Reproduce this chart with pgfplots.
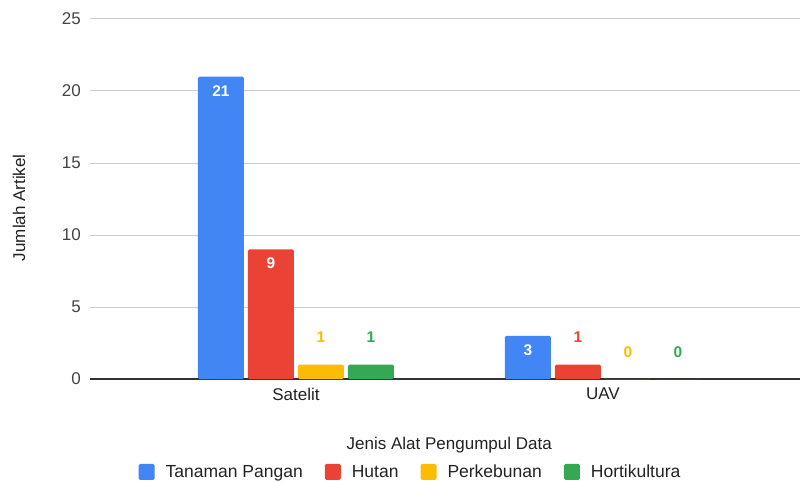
\documentclass[border=0pt]{standalone}
\usepackage{pgfplots}
\pgfplotsset{compat=1.18}
\usepackage{fontspec}
\setmainfont{Liberation Sans}
\definecolor{cBlue}{HTML}{4285F4}
\definecolor{cRed}{HTML}{EA4335}
\definecolor{cYellow}{HTML}{FBBC04}
\definecolor{cGreen}{HTML}{34A853}
\definecolor{cGrid}{HTML}{CCCCCC}
\definecolor{cAxis}{HTML}{333333}
\definecolor{cText}{HTML}{222222}
\definecolor{cTick}{HTML}{444444}
\newcommand{\lbl}{\fontsize{17}{20}\selectfont}
\begin{document}
\begin{tikzpicture}
\begin{axis}[
  at={(90pt,103pt)}, anchor=south west,
  scale only axis, width=710pt, height=360pt,
  ybar=4pt, bar width=46pt,
  xmin=-0.671, xmax=1.642, ymin=0, ymax=25,
  xtick={0,1}, xticklabels={Satelit,UAV},
  ytick={0,5,10,15,20,25},
  /pgf/number format/assume math mode=true,
  major tick length=0pt,
  axis x line*=bottom, axis y line*=left,
  x axis line style={-, draw=cAxis, line width=1.3pt},
  y axis line style={draw=none},
  ymajorgrids, grid style={draw=cGrid, line width=1pt},
  yticklabel style={font=\lbl, text=cTick, inner sep=0pt, anchor=east, xshift=-9pt},
  xticklabel style={font=\lbl, text=cText, inner sep=0pt, anchor=north, yshift=-9pt},
  xlabel={Jenis Alat Pengumpul Data},
  ylabel={Jumlah Artikel},
  xlabel style={font=\lbl, text=cText, at={(axis description cs:0.506,-0.183)}, anchor=center},
  ylabel style={font=\lbl, text=cText, at={(axis description cs:-0.1,0.476)}, anchor=center},
  clip=false,
  legend columns=4,
  legend style={draw=none, fill=none, font=\fontsize{17.5}{20}\selectfont, text=cText,
    at={(axis description cs:0.45,-0.258)}, anchor=center,
    /tikz/every odd column/.append style={column sep=11pt},
    /tikz/every even column/.append style={column sep=22pt},
    nodes={inner sep=0pt}},
  every axis plot post/.append style={
    legend image code/.code={\fill[##1,rounded corners=1.5pt] (0pt,-8pt) rectangle (16pt,8pt);}},
  visualization depends on={y \as \rawy},
  visualization depends on={(y>2)*(-41)+27 \as \lblshift},
  nodes near coords={\ifdim\rawy pt>2pt\color{white}\fi\pgfmathprintnumber{\rawy}},
  every node near coord/.append style={font=\bfseries\fontsize{15.5}{18}\selectfont, anchor=center, yshift=\lblshift pt},
]
\addplot[fill=cBlue, draw=none, rounded corners=1.5pt, every node near coord/.append style={text=cBlue}] coordinates {(0,21) (1,3)};
\addplot[fill=cRed, draw=none, rounded corners=1.5pt, every node near coord/.append style={text=cRed}] coordinates {(0,9) (1,1)};
\addplot[fill=cYellow, draw=none, rounded corners=1.5pt, every node near coord/.append style={text=cYellow}] coordinates {(0,1) (1,0)};
\addplot[fill=cGreen, draw=none, rounded corners=1.5pt, every node near coord/.append style={text=cGreen}] coordinates {(0,1) (1,0)};
\legend{Tanaman Pangan, Hutan, Perkebunan, Hortikultura}
\end{axis}
\pgfresetboundingbox
\path (0,0) rectangle (800pt,482pt);
\end{tikzpicture}
\end{document}
